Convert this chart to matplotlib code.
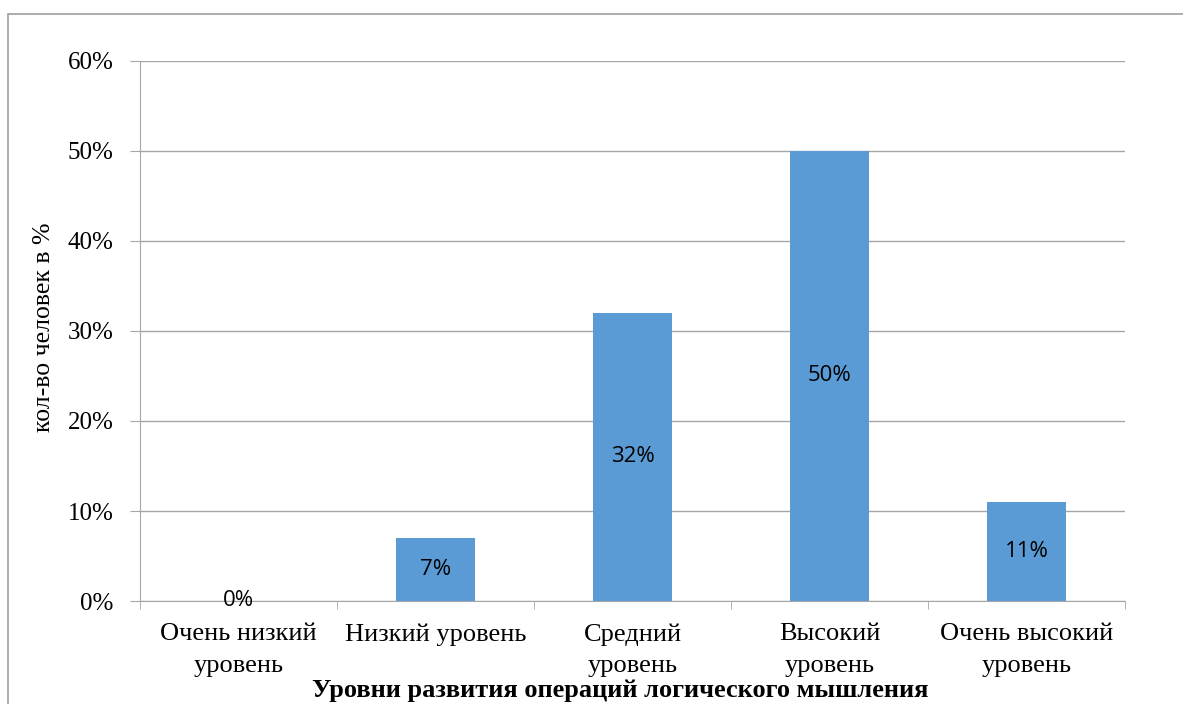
import matplotlib.pyplot as plt
from matplotlib.patches import Rectangle
from matplotlib.ticker import FuncFormatter

# data
categories = ["Очень низкий\nуровень", "Низкий уровень", "Средний\nуровень",
              "Высокий\nуровень", "Очень высокий\nуровень"]
values = [0, 7, 32, 50, 11]
value_labels = ["0%", "7%", "32%", "50%", "11%"]
yticks = [0, 10, 20, 30, 40, 50, 60]

grey = "#a6a6a6"
serif = ["Liberation Serif", "DejaVu Serif"]

fig = plt.figure(figsize=(11.83, 7.04), dpi=100)
ax = fig.add_axes([140 / 1183, 1 - 601 / 704, 985 / 1183, 540 / 704])

# outer chart frame (only left/top visible)
fig.patches.append(Rectangle((8 / 1183, -0.2), 1.2, 1.2 - 14 / 704,
                             transform=fig.transFigure, fill=False,
                             edgecolor=grey, linewidth=1.3))

x = list(range(len(categories)))
bars = ax.bar(x, values, width=0.4, color="#5b9bd5", zorder=3)
ax.bar_label(bars, labels=value_labels, label_type="center",
             fontsize=16, family=["Open Sans", "DejaVu Sans"], color="black")

ax.set_xlim(-0.5, len(categories) - 0.5)
ax.set_ylim(0, 60)
ax.set_yticks(yticks)
ax.yaxis.set_major_formatter(FuncFormatter(lambda v, p: f"{v:.0f}%"))
ax.grid(axis="y", color=grey, linewidth=1, zorder=0)

ax.set_xticks(x)
ax.set_xticklabels(categories, family=serif, fontsize=19, linespacing=1.55)
ax.tick_params(axis="x", length=0, pad=16)
# minor ticks at category boundaries
ax.set_xticks([i - 0.5 for i in range(len(categories) + 1)], minor=True)
ax.tick_params(axis="x", which="minor", length=6, color=grey)
ax.tick_params(axis="y", length=7, color=grey, labelsize=18, pad=12)
for lab in ax.get_yticklabels():
    lab.set_family(serif)

for s in ["top", "right"]:
    ax.spines[s].set_visible(False)
for s in ["left", "bottom"]:
    ax.spines[s].set_color(grey)

fig.text(44 / 1183, 1 - 327 / 704, "кол-во человек в %", family=serif,
         fontsize=18.5, rotation=90, ha="center", va="center")
fig.text(620 / 1183, 1 - 690 / 704, "Уровни развития операций логического мышления",
         family=serif, fontsize=19, fontweight="bold", ha="center", va="center")

fig.savefig("out.png", dpi=100)
